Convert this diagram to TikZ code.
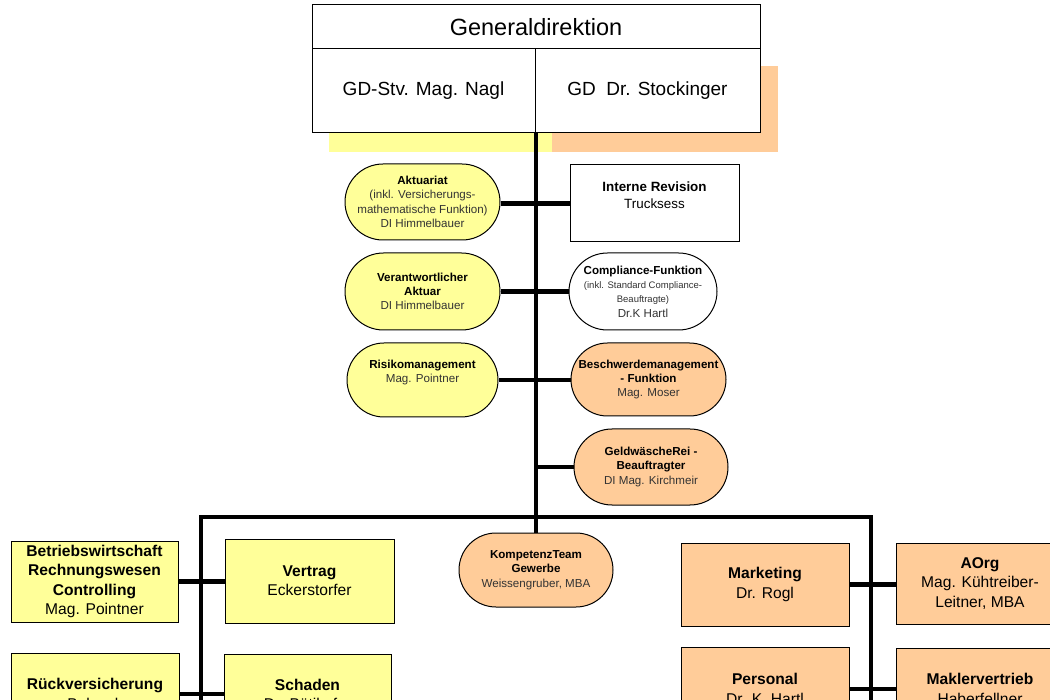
\documentclass[tikz,border=0pt]{standalone}
\usepackage{fontspec}
\setmainfont{Liberation Sans}
\usetikzlibrary{shapes.misc}
\definecolor{gelb}{HTML}{FFFF99}
\definecolor{orng}{HTML}{FFCC99}
\definecolor{namegray}{HTML}{333333}
\newcommand\mytinysz{\fontsize{9.5}{12}\selectfont}
\begin{document}
\begin{tikzpicture}[x=1pt,y=-1pt,
  box/.style={draw=black, line width=1pt, rectangle, inner sep=0, align=center},
  pill/.style={draw=black, line width=1pt, rounded rectangle, inner sep=0},
  smalltxt/.style={align=center, inner sep=0, font=\fontsize{11.6}{14.3}\selectfont},
  bigtxt/.style={font=\fontsize{15.6}{19.4}\selectfont},
  gdtxt/.style={font=\fontsize{19}{22}\selectfont},
  trunkline/.style={line width=4.6pt, line join=miter},
  linkline/.style={line width=4.2pt}]
\useasboundingbox (0,0) rectangle (1050,700);
\clip (0,0) rectangle (1050,700);

% shadows of the top box
\fill[gelb] (329,67) rectangle (552,152);
\fill[orng] (552,66) rectangle (778,152);

% top box
\node[box, fill=white, minimum width=448, minimum height=44, font=\fontsize{23.5}{26}\selectfont] (gd) at (536,27) {Generaldirektion};
\node[box, fill=white, minimum width=223, minimum height=84, gdtxt] (nagl) at (423.5,91) {GD-Stv. Mag. Nagl};
\node[box, fill=white, minimum width=225, minimum height=84, gdtxt] (stock) at (647.5,91) {GD\ \ Dr. Stockinger};

% staff units
\node[pill, fill=gelb, minimum width=155, minimum height=76] (akt) at (422.5,202) {};
\node[smalltxt, text=namegray] (aktt) at (akt.center) {\textbf{\textcolor{black}{Aktuariat}}\\(inkl. Versicherungs-\\mathematische Funktion)\\DI Himmelbauer};

\node[box, fill=white, minimum width=169, minimum height=77, font=\fontsize{13.4}{17}\selectfont] (rev) at (654.5,203.5) {\textbf{Interne Revision}\\Trucksess\\\mbox{}};

\node[pill, fill=gelb, minimum width=155, minimum height=77] (vak) at (422.5,291.5) {};
\node[smalltxt, text=namegray] (vakt) at (vak.center) {\textbf{\textcolor{black}{Verantwortlicher}}\\\textbf{\textcolor{black}{Aktuar}}\\DI Himmelbauer};

\node[pill, fill=white, minimum width=148, minimum height=77] (comp) at (643,291.5) {};
\node[smalltxt, text=namegray] (compt) at (comp.center) {\textbf{\textcolor{black}{Compliance-Funktion}}\\{\mytinysz (inkl. Standard Compliance-}\\{\mytinysz Beauftragte)}\\Dr.K Hartl};

\node[pill, fill=gelb, minimum width=151, minimum height=74] (risk) at (422.5,380) {};
\node[smalltxt, text=namegray] (riskt) at ([yshift=7.5pt]risk.center) {\textbf{\textcolor{black}{Risikomanagement}}\\Mag. Pointner};

\node[pill, fill=orng, minimum width=155, minimum height=73] (besch) at (648.5,379.5) {};
\node[smalltxt, text=namegray] (bescht) at (besch.center) {\textbf{\textcolor{black}{Beschwerdemanagement}}\\\textbf{\textcolor{black}{- Funktion}}\\Mag. Moser};

\node[pill, fill=orng, minimum width=154, minimum height=76] (geld) at (651,467) {};
\node[smalltxt, text=namegray] (geldt) at (geld.center) {\textbf{\textcolor{black}{GeldwäscheRei -}}\\\textbf{\textcolor{black}{Beauftragter}}\\DI Mag. Kirchmeir};

\node[pill, fill=orng, minimum width=154, minimum height=74] (komp) at (536,570) {};
\node[smalltxt, text=namegray] (kompt) at (komp.center) {\textbf{\textcolor{black}{KompetenzTeam}}\\\textbf{\textcolor{black}{Gewerbe}}\\Weissengruber, MBA};

% departments
\node[box, fill=gelb, minimum width=167, minimum height=81, bigtxt] (bw) at (94.5,581.5) {\textbf{Betriebswirtschaft}\\\textbf{Rechnungswesen}\\\textbf{Controlling}\\Mag. Pointner};
\node[box, fill=gelb, minimum width=169, minimum height=84, bigtxt] (vert) at (309.5,581) {\textbf{Vertrag}\\Eckerstorfer};
\node[box, fill=gelb, minimum width=168, minimum height=82, bigtxt] (rv) at (95,694) {\textbf{Rückversicherung}\\Belacek};
\node[box, fill=gelb, minimum width=167, minimum height=81, bigtxt] (sch) at (307.5,694.5) {\textbf{Schaden}\\Dr. Bütikofer};

\node[box, fill=orng, minimum width=168, minimum height=83, bigtxt] (mkt) at (765,584.5) {\textbf{Marketing}\\Dr. Rogl};
\node[box, fill=orng, minimum width=168, minimum height=81, bigtxt] (aorg) at (980,583.5) {\textbf{AOrg}\\Mag. Kühtreiber-\\Leitner, MBA};
\node[box, fill=orng, minimum width=168, minimum height=84, bigtxt] (pers) at (765,689) {\textbf{Personal}\\Dr. K. Hartl};
\node[box, fill=orng, minimum width=168, minimum height=82, bigtxt] (mak) at (980,689) {\textbf{Maklervertrieb}\\Haberfellner};

% trunk and bars
\coordinate (trunk) at (536,133);
\coordinate (bl) at (201,517);
\coordinate (br) at (871,517);
\coordinate (bl0) at (201,720);
\coordinate (br0) at (871,720);
\draw[trunkline] (trunk) -- (komp.north);
\draw[trunkline] (bl0) -- (bl) -- (br) -- (br0);

% links
\draw[linkline] (akt.east |- rev.west) -- (rev.west);
\draw[linkline] (vak.east) -- (comp.west);
\draw[linkline] (risk.east) -- (besch.west |- risk.east);
\draw[linkline] (trunk |- geld.west) -- (geld.west);
\draw[linkline] (bw.east) -- (vert.west |- bw.east);
\draw[linkline] (rv.east) -- (sch.west |- rv.east);
\draw[linkline] (mkt.east) -- (aorg.west |- mkt.east);
\draw[linkline] (pers.east) -- (mak.west |- pers.east);
\end{tikzpicture}
\end{document}
